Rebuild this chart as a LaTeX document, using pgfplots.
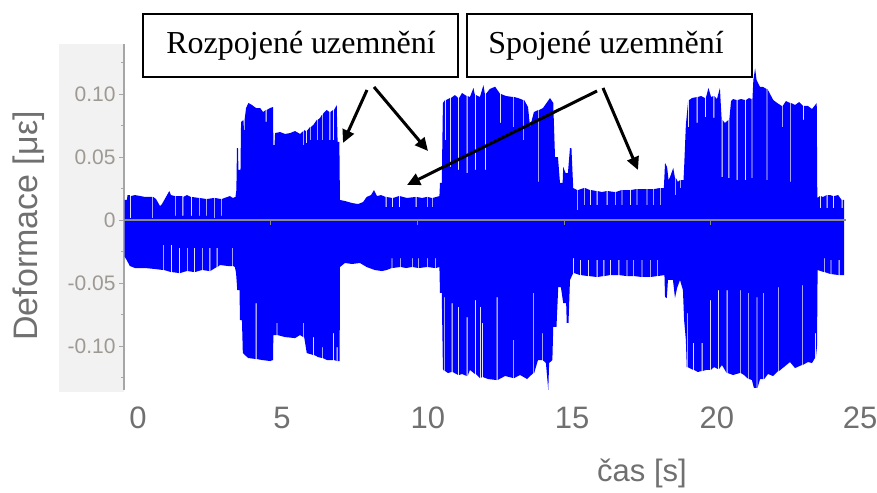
\documentclass[border=0pt]{standalone}
\usepackage{fontspec}
\setmainfont{Liberation Sans}
\newfontfamily\notefont{Liberation Serif}
\usepackage{pgfplots}
\pgfplotsset{compat=1.18}
\usetikzlibrary{arrows.meta}
\definecolor{signal}{RGB}{0,0,255}
\definecolor{panel}{RGB}{242,242,242}
\definecolor{axisgray}{RGB}{166,166,166}
\definecolor{ticklab}{RGB}{158,153,147}
\definecolor{labgray}{RGB}{112,112,112}
\definecolor{zerogray}{RGB}{138,138,138}

\begin{document}
\begin{tikzpicture}[x=1pt,y=1pt]
\useasboundingbox (0,0) rectangle (877,492);
% light panel behind the y axis labels
\fill[panel] (59,100) rectangle (124,448);
\begin{axis}[
  at={(124pt,102pt)}, anchor=south west,
  scale only axis, width=742.3pt, height=346pt,
  xmin=0, xmax=25.3, ymin=-0.1349, ymax=0.1397,
  axis x line*=bottom, axis y line*=left,
  x axis line style={draw=none},
  y axis line style={axisgray, line width=1.3pt},
  xtick={0.477,5.385,10.36,15.27,20.21,25.09},
  xticklabels={0,5,10,15,20,25},
  every major x tick/.append style={draw=none},
  xticklabel style={anchor=center, yshift=-28pt, text=labgray,
    font=\fontsize{31}{34}\selectfont},
  ytick={-0.10,-0.05,0,0.05,0.10},
  yticklabels={-0.10,-0.05,0,0.05,0.10},
  minor ytick={-0.125,-0.075,-0.025,0.025,0.075,0.125},
  ytick align=outside,
  major tick length=5pt, minor tick length=3pt,
  every major y tick/.append style={axisgray, line width=1pt},
  every minor y tick/.append style={axisgray, line width=1pt},
  yticklabel style={text=ticklab, font=\fontsize{21}{24}\selectfont},
  clip=false,
]
% positive half of the strain envelope
\addplot[draw=none, fill=signal] coordinates {
(0.02,0)(0.02,0.0159)(0.10,0.0159)(0.12,0.0198)(0.20,0.0198)(0.20,0.0016)(0.23,0.0016)(0.23,0.0190)(0.375,0.0198)(0.72,0.0183)(0.965,0.0183)(0.965,0.0016)(0.995,0.0016)(0.995,0.0183)(1.09,0.0167)(1.227,0.0111)(1.295,0.0127)(1.43,0.0183)(1.544,0.0230)(1.60,0.0198)(1.74,0.0190)(1.74,0.0032)(1.77,0.0032)(1.77,0.0190)(1.99,0.0190)(1.99,0.0032)(2.02,0.0032)(2.02,0.0183)(2.147,0.0198)(2.28,0.0183)(2.28,0.0032)(2.31,0.0032)(2.31,0.0183)(2.55,0.0175)(2.55,0.0032)(2.58,0.0032)(2.58,0.0175)(2.795,0.0167)(2.795,0.0032)(2.825,0.0032)(2.825,0.0167)(3.07,0.0175)(3.07,0.0016)(3.10,0.0016)(3.10,0.0175)(3.30,0.0167)(3.30,0.0032)(3.33,0.0032)(3.33,0.0167)(3.61,0.0190)(3.71,0.0175)(3.80,0.0183)(3.83,0.0238)(3.85,0.0571)(3.885,0.0571)(3.90,0.0397)(3.97,0.0397)(3.99,0.0778)(4.07,0.0794)(4.09,0.0714)(4.11,0.0714)(4.11,0.0794)(4.16,0.0889)(4.24,0.0929)(4.36,0.0913)(4.50,0.0889)(4.64,0.0889)(4.74,0.0857)(4.83,0.0873)(4.83,0.0778)(4.86,0.0778)(4.86,0.0873)(4.98,0.0889)(5.08,0.0897)(5.09,0.0595)(5.13,0.0595)(5.15,0.0690)(5.32,0.0698)(5.49,0.0683)(5.66,0.0690)(5.83,0.0706)(6.00,0.0683)(6.11,0.0706)(6.11,0.0595)(6.14,0.0595)(6.14,0.0714)(6.20,0.0706)(6.20,0.0611)(6.23,0.0611)(6.23,0.0706)(6.34,0.0738)(6.34,0.0635)(6.37,0.0635)(6.37,0.0738)(6.45,0.0754)(6.57,0.0794)(6.57,0.0635)(6.60,0.0635)(6.60,0.0794)(6.68,0.0810)(6.74,0.0833)(6.74,0.0635)(6.77,0.0635)(6.77,0.0833)(6.80,0.0849)(6.91,0.0873)(7.00,0.0857)(7.00,0.0635)(7.03,0.0635)(7.03,0.0857)(7.13,0.0873)(7.13,0.0635)(7.16,0.0635)(7.16,0.0873)(7.25,0.0913)(7.28,0.0620)(7.34,0.0620)(7.36,0.0159)(7.53,0.0151)(7.77,0.0135)(7.98,0.0127)(8.15,0.0143)(8.27,0.0183)(8.42,0.0198)(8.52,0.0238)(8.62,0.0190)(8.76,0.0198)(8.92,0.0183)(8.92,0.0103)(8.95,0.0103)(8.95,0.0183)(9.14,0.0175)(9.14,0.0103)(9.17,0.0103)(9.17,0.0175)(9.37,0.0190)(9.37,0.0103)(9.40,0.0103)(9.40,0.0190)(9.64,0.0175)(9.94,0.0183)(9.94,0.0103)(9.97,0.0103)(9.97,0.0183)(10.16,0.0175)(10.32,0.0183)(10.32,0.0103)(10.35,0.0103)(10.35,0.0183)(10.49,0.0175)(10.49,0.0103)(10.52,0.0103)(10.52,0.0175)(10.75,0.0190)(10.77,0.0294)(10.83,0.0294)(10.87,0.0929)(10.94,0.0952)(10.94,0.0635)(10.97,0.0635)(10.97,0.0952)(11.11,0.0968)(11.11,0.0421)(11.14,0.0421)(11.14,0.0968)(11.28,0.0992)(11.39,0.0968)(11.39,0.0397)(11.42,0.0397)(11.42,0.0968)(11.52,0.1008)(11.68,0.0984)(11.68,0.0373)(11.71,0.0373)(11.71,0.0984)(11.79,0.0976)(11.91,0.1048)(11.96,0.0992)(11.96,0.0397)(11.99,0.0397)(11.99,0.0992)(12.13,0.0976)(12.25,0.1071)(12.30,0.1000)(12.30,0.0397)(12.33,0.0397)(12.33,0.1000)(12.47,0.1040)(12.65,0.1058)(12.82,0.1000)(12.82,0.0770)(12.85,0.0770)(12.85,0.1000)(13.02,0.0984)(13.27,0.0976)(13.27,0.0738)(13.30,0.0738)(13.30,0.0976)(13.43,0.0968)(13.61,0.0952)(13.61,0.0635)(13.64,0.0635)(13.64,0.0952)(13.77,0.0897)(13.84,0.0738)(13.97,0.0857)(14.12,0.0873)(14.12,0.0302)(14.15,0.0302)(14.15,0.0873)(14.28,0.0889)(14.52,0.0968)(14.63,0.0929)(14.69,0.0500)(14.79,0.0500)(14.86,0.0294)(14.95,0.0294)(14.97,0.0421)(15.05,0.0373)(15.13,0.0373)(15.20,0.0571)(15.25,0.0571)(15.31,0.0254)(15.45,0.0238)(15.45,0.0079)(15.48,0.0079)(15.48,0.0238)(15.68,0.0254)(15.68,0.0119)(15.71,0.0119)(15.71,0.0254)(15.88,0.0238)(15.88,0.0119)(15.91,0.0119)(15.91,0.0238)(16.11,0.0230)(16.11,0.0119)(16.14,0.0119)(16.14,0.0230)(16.29,0.0222)(16.45,0.0230)(16.45,0.0119)(16.48,0.0119)(16.48,0.0230)(16.73,0.0222)(16.73,0.0119)(16.76,0.0119)(16.76,0.0222)(16.96,0.0238)(16.96,0.0119)(16.99,0.0119)(16.99,0.0238)(17.25,0.0238)(17.25,0.0119)(17.28,0.0119)(17.28,0.0238)(17.47,0.0246)(17.47,0.0119)(17.50,0.0119)(17.50,0.0246)(17.81,0.0246)(17.81,0.0119)(17.84,0.0119)(17.84,0.0246)(18.04,0.0246)(18.04,0.0119)(18.07,0.0119)(18.07,0.0246)(18.27,0.0254)(18.27,0.0119)(18.30,0.0119)(18.30,0.0254)(18.40,0.0254)(18.44,0.0452)(18.51,0.0421)(18.56,0.0317)(18.61,0.0341)(18.72,0.0413)(18.78,0.0333)(18.78,0.0198)(18.81,0.0198)(18.81,0.0333)(18.88,0.0302)(18.95,0.0317)(18.95,0.0254)(18.98,0.0254)(18.98,0.0317)(19.07,0.0317)(19.09,0.0413)(19.15,0.0754)(19.23,0.0952)(19.23,0.0738)(19.26,0.0738)(19.26,0.0952)(19.36,0.0968)(19.52,0.0976)(19.52,0.0770)(19.55,0.0770)(19.55,0.0976)(19.67,0.0984)(19.80,0.0968)(19.80,0.0817)(19.83,0.0817)(19.83,0.0968)(19.92,0.1048)(20.01,0.0976)(20.09,0.0984)(20.09,0.0810)(20.12,0.0810)(20.12,0.0984)(20.21,0.0960)(20.31,0.1048)(20.37,0.0794)(20.37,0.0341)(20.40,0.0341)(20.40,0.0794)(20.48,0.0770)(20.60,0.0794)(20.60,0.0333)(20.63,0.0333)(20.63,0.0794)(20.69,0.0944)(20.76,0.0960)(20.88,0.0952)(20.88,0.0317)(20.91,0.0317)(20.91,0.0952)(21.03,0.0960)(21.17,0.0952)(21.17,0.0317)(21.20,0.0317)(21.20,0.0952)(21.30,0.0968)(21.39,0.0960)(21.39,0.0333)(21.42,0.0333)(21.42,0.0960)(21.45,0.1111)(21.51,0.1204)(21.56,0.1111)(21.68,0.1056)(21.78,0.1056)(21.90,0.1040)(21.90,0.0317)(21.93,0.0317)(21.93,0.1040)(22.02,0.1000)(22.13,0.0952)(22.26,0.0929)(22.42,0.0905)(22.42,0.0738)(22.45,0.0738)(22.45,0.0905)(22.56,0.0944)(22.70,0.0929)(22.70,0.0302)(22.73,0.0302)(22.73,0.0929)(22.87,0.0913)(23.01,0.0936)(23.15,0.0905)(23.15,0.0794)(23.18,0.0794)(23.18,0.0905)(23.31,0.0905)(23.45,0.0881)(23.61,0.0929)(23.63,0.0175)(23.72,0.0190)(23.72,0.0095)(23.75,0.0095)(23.75,0.0190)(23.82,0.0183)(23.95,0.0198)(23.95,0.0095)(23.98,0.0095)(23.98,0.0198)(24.06,0.0198)(24.17,0.0190)(24.17,0.0095)(24.20,0.0095)(24.20,0.0190)(24.34,0.0198)(24.46,0.0159)(24.46,0.0095)(24.49,0.0095)(24.49,0.0159)(24.54,0.0159)(24.54,0)
};
% negative half of the strain envelope
\addplot[draw=none, fill=signal] coordinates {
(0.02,0)(0.02,-0.0291)(0.09,-0.0317)(0.20,-0.0365)(0.375,-0.0381)(0.72,-0.0381)(1.06,-0.0389)(1.34,-0.0397)(1.34,-0.0198)(1.37,-0.0198)(1.37,-0.0397)(1.60,-0.0413)(1.60,-0.0198)(1.63,-0.0198)(1.63,-0.0413)(1.88,-0.0421)(1.88,-0.0222)(1.91,-0.0222)(1.91,-0.0421)(2.14,-0.0405)(2.14,-0.0222)(2.17,-0.0222)(2.17,-0.0405)(2.39,-0.0413)(2.39,-0.0222)(2.42,-0.0222)(2.42,-0.0413)(2.65,-0.0397)(2.65,-0.0222)(2.68,-0.0222)(2.68,-0.0397)(2.91,-0.0405)(2.91,-0.0222)(2.94,-0.0222)(2.94,-0.0405)(3.16,-0.0373)(3.16,-0.0222)(3.19,-0.0222)(3.19,-0.0373)(3.27,-0.0357)(3.54,-0.0365)(3.69,-0.0365)(3.69,-0.0222)(3.72,-0.0222)(3.72,-0.0365)(3.78,-0.0373)(3.82,-0.0421)(3.86,-0.0556)(3.94,-0.0556)(3.95,-0.0794)(4.02,-0.0794)(4.05,-0.1056)(4.23,-0.1095)(4.49,-0.1103)(4.49,-0.0659)(4.52,-0.0659)(4.52,-0.1103)(4.70,-0.1111)(4.98,-0.1119)(5.08,-0.1111)(5.09,-0.0913)(5.20,-0.0913)(5.20,-0.0817)(5.23,-0.0817)(5.23,-0.0913)(5.49,-0.0929)(5.83,-0.0937)(6.00,-0.0913)(6.11,-0.0929)(6.11,-0.0817)(6.14,-0.0817)(6.14,-0.0929)(6.23,-0.1056)(6.45,-0.1071)(6.45,-0.0929)(6.48,-0.0929)(6.48,-0.1071)(6.61,-0.1087)(6.74,-0.1095)(6.74,-0.1008)(6.77,-0.1008)(6.77,-0.1095)(6.92,-0.1111)(7.13,-0.1111)(7.13,-0.0897)(7.16,-0.0897)(7.16,-0.1111)(7.25,-0.1119)(7.25,-0.1008)(7.28,-0.1008)(7.28,-0.1119)(7.35,-0.1119)(7.36,-0.0373)(7.53,-0.0341)(7.77,-0.0349)(8.04,-0.0341)(8.27,-0.0373)(8.55,-0.0397)(8.79,-0.0405)(8.95,-0.0397)(9.12,-0.0381)(9.12,-0.0302)(9.15,-0.0302)(9.15,-0.0381)(9.41,-0.0373)(9.41,-0.0302)(9.44,-0.0302)(9.44,-0.0373)(9.61,-0.0381)(9.81,-0.0373)(9.81,-0.0302)(9.84,-0.0302)(9.84,-0.0373)(10.03,-0.0381)(10.03,-0.0302)(10.06,-0.0302)(10.06,-0.0381)(10.32,-0.0373)(10.32,-0.0302)(10.35,-0.0302)(10.35,-0.0373)(10.60,-0.0381)(10.60,-0.0302)(10.63,-0.0302)(10.63,-0.0381)(10.75,-0.0373)(10.77,-0.0579)(10.83,-0.0579)(10.87,-0.1183)(10.91,-0.1198)(10.91,-0.0611)(10.94,-0.0611)(10.94,-0.1198)(11.04,-0.1214)(11.17,-0.1206)(11.17,-0.0659)(11.20,-0.0659)(11.20,-0.1206)(11.39,-0.1230)(11.39,-0.0690)(11.42,-0.0690)(11.42,-0.1230)(11.52,-0.1222)(11.68,-0.1238)(11.68,-0.0770)(11.71,-0.0770)(11.71,-0.1238)(11.79,-0.1190)(11.96,-0.1222)(11.96,-0.0635)(11.99,-0.0635)(11.99,-0.1222)(12.13,-0.1254)(12.13,-0.0690)(12.16,-0.0690)(12.16,-0.1254)(12.20,-0.1246)(12.20,-0.0817)(12.23,-0.0817)(12.23,-0.1246)(12.41,-0.1262)(12.70,-0.1270)(12.70,-0.0611)(12.73,-0.0611)(12.73,-0.1270)(12.99,-0.1238)(13.27,-0.1254)(13.27,-0.0952)(13.30,-0.0952)(13.30,-0.1254)(13.50,-0.1230)(13.74,-0.1262)(13.95,-0.1214)(13.95,-0.0579)(13.98,-0.0579)(13.98,-0.1214)(14.11,-0.1111)(14.24,-0.1111)(14.24,-0.0897)(14.27,-0.0897)(14.27,-0.1111)(14.38,-0.1135)(14.46,-0.1349)(14.49,-0.1135)(14.60,-0.1111)(14.63,-0.0849)(14.74,-0.0849)(14.80,-0.0532)(14.89,-0.0532)(14.97,-0.0659)(15.07,-0.0659)(15.09,-0.0817)(15.15,-0.0817)(15.20,-0.0476)(15.31,-0.0421)(15.31,-0.0302)(15.34,-0.0302)(15.34,-0.0421)(15.54,-0.0437)(15.54,-0.0317)(15.57,-0.0317)(15.57,-0.0437)(15.82,-0.0445)(15.82,-0.0317)(15.85,-0.0317)(15.85,-0.0445)(16.11,-0.0452)(16.11,-0.0317)(16.14,-0.0317)(16.14,-0.0452)(16.34,-0.0445)(16.34,-0.0317)(16.37,-0.0317)(16.37,-0.0445)(16.56,-0.0437)(16.56,-0.0317)(16.59,-0.0317)(16.59,-0.0437)(16.85,-0.0437)(16.85,-0.0317)(16.88,-0.0317)(16.88,-0.0437)(17.13,-0.0445)(17.13,-0.0317)(17.16,-0.0317)(17.16,-0.0445)(17.36,-0.0445)(17.36,-0.0317)(17.39,-0.0317)(17.39,-0.0445)(17.64,-0.0452)(17.64,-0.0317)(17.67,-0.0317)(17.67,-0.0452)(17.93,-0.0452)(17.93,-0.0317)(17.96,-0.0317)(17.96,-0.0452)(18.16,-0.0445)(18.16,-0.0317)(18.19,-0.0317)(18.19,-0.0445)(18.42,-0.0437)(18.44,-0.0611)(18.50,-0.0619)(18.54,-0.0476)(18.71,-0.0476)(18.78,-0.0619)(18.85,-0.0540)(18.95,-0.0476)(19.05,-0.0556)(19.09,-0.0794)(19.15,-0.0952)(19.18,-0.1167)(19.18,-0.0738)(19.21,-0.0738)(19.21,-0.1167)(19.40,-0.1190)(19.40,-0.0976)(19.43,-0.0976)(19.43,-0.1190)(19.56,-0.1206)(19.69,-0.1198)(19.69,-0.0976)(19.72,-0.0976)(19.72,-0.1198)(19.84,-0.1190)(19.97,-0.1190)(19.97,-0.0635)(20.00,-0.0635)(20.00,-0.1190)(20.11,-0.1167)(20.25,-0.1183)(20.25,-0.0556)(20.28,-0.0556)(20.28,-0.1183)(20.38,-0.1151)(20.54,-0.1214)(20.54,-0.0556)(20.57,-0.0556)(20.57,-0.1214)(20.76,-0.1230)(20.99,-0.1214)(20.99,-0.0556)(21.02,-0.0556)(21.02,-0.1214)(21.13,-0.1230)(21.28,-0.1262)(21.28,-0.0579)(21.31,-0.0579)(21.31,-0.1262)(21.40,-0.1270)(21.47,-0.1333)(21.56,-0.1333)(21.56,-0.0611)(21.59,-0.0611)(21.59,-0.1333)(21.68,-0.1262)(21.79,-0.1262)(21.79,-0.0579)(21.82,-0.0579)(21.82,-0.1262)(21.95,-0.1222)(22.12,-0.1238)(22.30,-0.1198)(22.30,-0.0532)(22.33,-0.0532)(22.33,-0.1198)(22.49,-0.1167)(22.70,-0.1127)(22.87,-0.1175)(23.10,-0.1151)(23.10,-0.0516)(23.13,-0.0516)(23.13,-0.1151)(23.31,-0.1127)(23.45,-0.1135)(23.55,-0.1095)(23.55,-0.0897)(23.58,-0.0897)(23.58,-0.1095)(23.62,-0.1000)(23.64,-0.0397)(23.85,-0.0413)(23.85,-0.0302)(23.88,-0.0302)(23.88,-0.0413)(24.08,-0.0429)(24.08,-0.0317)(24.11,-0.0317)(24.11,-0.0429)(24.36,-0.0437)(24.36,-0.0317)(24.39,-0.0317)(24.39,-0.0437)(24.54,-0.0437)(24.54,0)
};
% zero line with its small ticks
\addplot[zerogray, line width=1.3pt] coordinates {(0,0)(24.6,0)};
\addplot[zerogray, only marks, mark=|, mark size=2.5pt,
  every mark/.append style={yshift=-2pt, line width=0.8pt}]
  coordinates {(5,0)(10,0)(15,0)(20,0)};
\end{axis}
% axis titles
\node[rotate=90, text=labgray, font=\fontsize{34}{38}\selectfont] at (29,266) {Deformace [με]};
\node[text=labgray, font=\fontsize{31}{34}\selectfont] at (642,19) {čas [s]};
% annotation boxes
\draw[line width=1.2pt, fill=white] (143,415) rectangle (458,478);
\draw[line width=1.2pt, fill=white] (467,415) rectangle (752,478);
\node[font=\notefont\fontsize{32}{36}\selectfont] at (301,446) {Rozpojené uzemnění};
\node[font=\notefont\fontsize{32}{36}\selectfont] at (606,446) {Spojené uzemnění};
% arrows
\begin{scope}[line width=3pt, -{Triangle[length=13pt,width=12pt]}]
\draw (367,402) -- (343,349);
\draw (374,405) -- (428,341);
\draw (597,401) -- (407,307);
\draw (603,404) -- (638,322);
\end{scope}
\end{tikzpicture}
\end{document}
